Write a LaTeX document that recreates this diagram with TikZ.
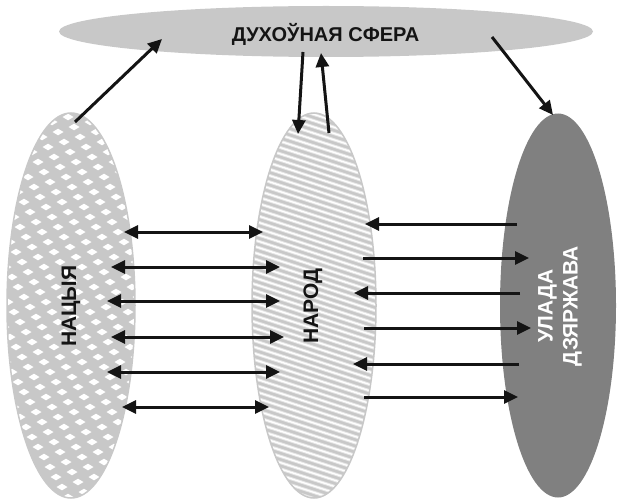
\documentclass[tikz,border=0pt]{standalone}
\usepackage{fontspec}
\setmainfont{Liberation Sans}
\usetikzlibrary{arrows.meta}
\definecolor{lgray}{RGB}{200,200,200}
\definecolor{dgray}{RGB}{128,128,128}
\definecolor{ink}{RGB}{20,20,20}
\begin{document}
\begin{tikzpicture}[x=1pt,y=-1pt,
  arr/.style={draw=ink,line width=3pt,-{Triangle[length=14pt,width=13pt]}},
  darr/.style={draw=ink,line width=3pt,{Triangle[length=14pt,width=13pt]}-{Triangle[length=14pt,width=13pt]}},
  lbl/.style={font=\bfseries\fontsize{21}{25}\selectfont,inner sep=0pt,align=center}]
\useasboundingbox (0,0) rectangle (618,500);
% top ellipse
\fill[lgray] (326,31.5) ellipse [x radius=267,y radius=25.5];
\node[font=\bfseries\fontsize{20}{24}\selectfont,text=ink,inner sep=0pt] (sfera) at (325.5,34) {ДУХОЎНАЯ СФЕРА};
% left ellipse: diamond pattern
\begin{scope}
\clip (71,305.5) ellipse [x radius=64,y radius=192.5];
\fill[lgray] (0,100) rectangle (150,510);
\foreach \i in {-20,...,10}{
  \foreach \j in {-4,...,44}{
    \pgfmathsetmacro{\px}{8+16*\i+6*\j}
    \pgfmathsetmacro{\py}{112-5*\i+10*\j}
    \fill[white] (\px-5.5,\py) -- (\px,\py-3.3) -- (\px+5.5,\py) -- (\px,\py+3.3) -- cycle;
  }
}
\end{scope}
\draw[lgray,line width=1.5pt] (71,305.5) ellipse [x radius=64,y radius=192.5];
\node[lbl,text=ink,rotate=90] (nacyja) at (71,306) {НАЦЫЯ};
% middle ellipse: stripes
\begin{scope}
\clip (314,305.5) ellipse [x radius=62,y radius=192.5];
\fill[lgray] (240,100) rectangle (390,510);
\foreach \k in {0,...,80}{
  \pgfmathsetmacro{\yy}{40+6.3*\k}
  \draw[white,line width=3.2pt,opacity=0.55] (240,\yy) -- (390,\yy+48.7);
  \draw[white,line width=1.3pt] (240,\yy) -- (390,\yy+48.7);
}
\end{scope}
\draw[lgray,line width=1.5pt] (314,305.5) ellipse [x radius=62,y radius=192.5];
\node[lbl,text=ink,rotate=90] (narod) at (313,306) {НАРОД};
% right ellipse
\fill[dgray] (558,305.5) ellipse [x radius=58,y radius=192];
\node[lbl,text=white,rotate=90] (ulada) at (560,306) {УЛАДА\\ДЗЯРЖАВА};
% top arrows
\coordinate (t1a) at (75,122); \coordinate (t1b) at (162,39);
\coordinate (t2a) at (303,52); \coordinate (t2b) at (298,134);
\coordinate (t3a) at (329,133); \coordinate (t3b) at (321,53);
\coordinate (t4a) at (492,37); \coordinate (t4b) at (553,115);
\draw[arr] (t1a) -- (t1b);
\draw[arr] (t2a) -- (t2b);
\draw[arr] (t3a) -- (t3b);
\draw[arr] (t4a) -- (t4b);
% left-middle double arrows
\foreach \n/\y/\xa/\xb in {1/232/124/263, 2/267/111/280, 3/301/107/280, 4/337/111/284, 5/372/107/280, 6/407/122/269}{
  \coordinate (l\n a) at (\xa,\y); \coordinate (l\n b) at (\xb,\y);
  \draw[darr] (l\n a) -- (l\n b);
}
% middle-right arrows
\foreach \n/\y/\xa/\xb in {1/224/517/365, 2/258/363/529, 3/293/520/354, 4/328/364/531, 5/364/519/353, 6/397/364/518}{
  \coordinate (r\n a) at (\xa,\y); \coordinate (r\n b) at (\xb,\y);
  \draw[arr] (r\n a) -- (r\n b);
}
\end{tikzpicture}
\end{document}
